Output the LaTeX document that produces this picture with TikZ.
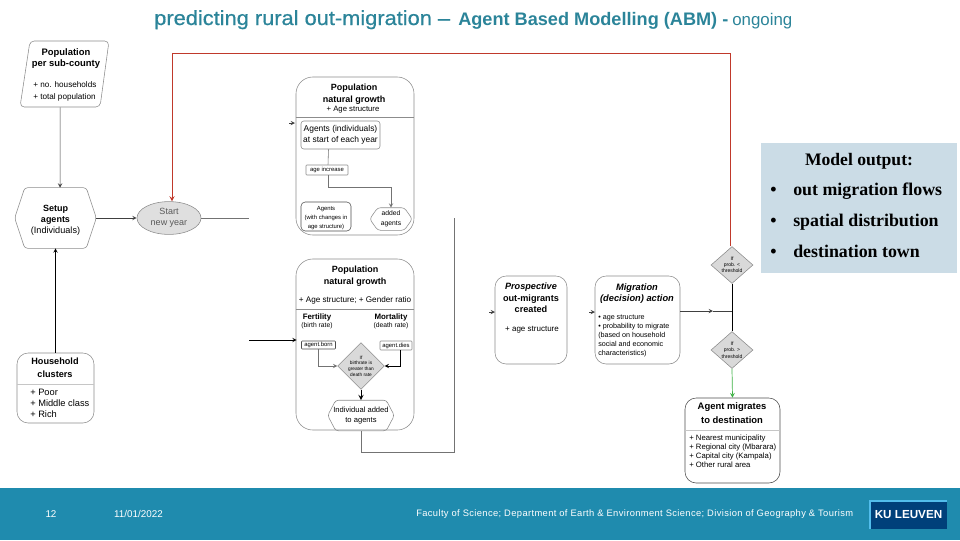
\documentclass[tikz,border=0pt]{standalone}
\usepackage{fontspec}
\setmainfont{Liberation Sans}
\newfontfamily\panelfont{Liberation Serif}
\usepackage{xcolor}
\usepackage{tikz}
\usetikzlibrary{calc, arrows, shapes.geometric}
\definecolor{titleteal}{HTML}{2B8499}
\definecolor{footerteal}{HTML}{1F8BAE}
\definecolor{panelblue}{HTML}{CBDCE6}
\definecolor{kublue}{HTML}{00407A}
\definecolor{kuedge}{HTML}{52BDEC}
\definecolor{boxline}{gray}{0.55}
\definecolor{flowred}{HTML}{C0392B}
\definecolor{flowgreen}{HTML}{3CB043}
\tikzset{
  >=stealth,
  roundbox/.style = {draw=boxline, rounded corners=8pt, inner sep=0pt},
  smallbox/.style = {draw=boxline, rounded corners=.6pt, inner sep=0pt, font=\fontsize{4.2}{5}\selectfont},
  ghost/.style = {inner sep=0pt},
  head/.style = {font=\fontsize{6.4}{8}\selectfont\bfseries, align=center, inner sep=0pt},
  plain/.style = {font=\fontsize{5}{6.6}\selectfont, align=left, inner sep=0pt},
  flow/.style = {draw=black!75, line width=.4pt},
  decide/.style = {diamond, draw=boxline, fill=gray!30, aspect=1, inner sep=0pt},
  foot/.style = {text=white, font=\fontsize{7}{8}\selectfont, inner sep=0pt},
  bullet/.style = {anchor=base west, inner sep=0pt, font=\panelfont\bfseries\fontsize{12.7}{14}\selectfont}
}
\newcommand{\hexoutline}[2]{
  \draw[boxline, rounded corners=2pt] (#1.west)
  -- ($(#1.north west)+(#2,0)$) -- ($(#1.north east)+(-#2,0)$)
  -- (#1.east) -- ($(#1.south east)+(-#2,0)$) -- ($(#1.south west)+(#2,0)$) -- cycle;
}
\begin{document}
\begin{tikzpicture}[x=0.025cm, y=-0.025cm]
  \useasboundingbox (0,0) rectangle (960,540);
  % title
  \node[anchor=base west, inner sep=0pt, text=titleteal, font=\fontsize{14.5}{16}\selectfont] (titlea) at (154,25) {\addfontfeature{FakeStretch=1.07,FakeBold=0.6}predicting rural out-migration --};
  \node[anchor=base west, inner sep=0pt, text=titleteal, font=\fontsize{12.9}{15}\selectfont\bfseries] (titleb) at (458,25) {Agent Based Modelling (ABM) -};
  \node[anchor=base west, inner sep=0pt, text=titleteal, font=\fontsize{12}{14}\selectfont] (titlec) at (732,25) {ongoing};

  % left column
  \node[ghost, minimum width=2.2cm, minimum height=1.65cm] (popsub) at (64.5,74) {};
  \draw[boxline, rounded corners=3pt] (30,41) -- (109,41) -- (100,107) -- (20,107) -- cycle;
  \node[head, font=\fontsize{6.7}{8}\selectfont\bfseries, anchor=north] (popsubhead) at (66,48) {Population\\per sub-county};
  \node[plain, anchor=north west, font=\fontsize{5.8}{8.5}\selectfont] (popsubtext) at (33,81) {+ no. households\\+ total population};

  \node[ghost, minimum width=2.025cm, minimum height=1.5cm] (setup) at (55.5,218) {};
  \hexoutline{setup}{10}
  \node[head] (setuphead) at (55.5,214.5) {Setup\\agents};
  \node[font=\fontsize{6.5}{8}\selectfont, inner sep=0pt] (setuptext) at (55.5,231) {(Individuals)};

  \node[ellipse, draw=boxline, fill=gray!25, minimum width=1.6cm, minimum height=.82cm, inner sep=0pt, text=black!65, font=\fontsize{6.4}{7.8}\selectfont, align=center] (newyear) at (169,218) {Start\\new year};

  \node[roundbox, minimum width=1.925cm, minimum height=1.75cm] (clusters) at (55.5,388) {};
  \draw[boxline!50] (clusters.west |- 0,384) coordinate (clusterl) -- (clusters.east |- 0,384) coordinate (clusterr);
  \node[head, font=\fontsize{6.5}{9.2}\selectfont\bfseries] (clusterhead) at (55,367.5) {Household\\clusters};
  \node[plain, anchor=north west, font=\fontsize{6.6}{7.8}\selectfont] (clustertext) at (30,389) {+ Poor\\+ Middle class\\+ Rich};

  \draw[flow, ->] ([xshift=-.11cm]popsub.south) -- ([xshift=.115cm]setup.north);
  \draw[flow, ->] (setup.east) -- (newyear.west);
  \draw[flow, draw=black, ->] (clusters.north) -- (setup.south);
  \coordinate (cutoff) at (249,218);
  \draw[flow, draw=black!55] (newyear.east) -- (cutoff);

  % first growth box
  \node[roundbox, rounded corners=12pt, minimum width=2.95cm, minimum height=3.95cm] (growtha) at (355,156) {};
  \draw[boxline] (growtha.west |- 0,117) -- (growtha.east |- 0,117);
  \node[head, anchor=north] (growthahead) at (354,84) {Population\\natural growth};
  \node[font=\fontsize{5.5}{6}\selectfont, inner sep=0pt] (growthatext) at (353,110) {+ Age structure};
  \node[draw=boxline, rounded corners=2pt, inner sep=0pt, minimum width=1.975cm, minimum height=.7cm, align=center, font=\fontsize{6}{7.6}\selectfont] (yearstart) at (340.5,135) {Agents (individuals)\\at start of each year};
  \node[smallbox, minimum width=1.05cm, minimum height=.25cm] (ageup) at (327,170) {age increase};
  \node[draw=black!70, rounded corners=3pt, inner sep=0pt, minimum width=1.25cm, minimum height=.725cm] (changed) at (326,216.5) {};
  \node[align=center, inner sep=0pt, font=\fontsize{4.2}{6.4}\selectfont] (changedtext) at (326,218) {Agents\\(with changes in\\age structure)};
  \node[ghost, minimum width=1.05cm, minimum height=.55cm, align=center, font=\fontsize{4.8}{7}\selectfont] (added) at (391,219) {added\\agents};
  \hexoutline{added}{8}
  \draw[flow, draw=black!55] ([xshift=-.3cm]yearstart.south) -- ([xshift=.025cm]ageup.north);
  \draw[flow, draw=black!55, ->] ([xshift=.025cm]ageup.south) |- ($(added.north)+(-62,-20)$) -| (added.north);
  \coordinate (tickin) at (289,123);
  \draw[flow, ->] (tickin) -- ++(6,0);

  % second growth box
  \node[roundbox, rounded corners=12pt, minimum width=2.95cm, minimum height=4.275cm] (growthb) at (355,344.5) {};
  \draw[boxline] (growthb.west |- 0,309) -- (growthb.east |- 0,309);
  \node[head, font=\fontsize{6.4}{8.6}\selectfont\bfseries, anchor=north] (growthbhead) at (355,266) {Population\\natural growth};
  \node[font=\fontsize{5.8}{6}\selectfont, inner sep=0pt] (growthbtext) at (355,300) {+ Age structure; + Gender ratio};
  \node[head, font=\fontsize{5.6}{7}\selectfont\bfseries] (fert) at (317,317) {Fertility};
  \node[font=\fontsize{4.8}{5}\selectfont, inner sep=0pt] (fertrate) at (317,326) {(birth rate)};
  \node[head, font=\fontsize{5.6}{7}\selectfont\bfseries] (mort) at (391,317) {Mortality};
  \node[font=\fontsize{4.8}{5}\selectfont, inner sep=0pt] (mortrate) at (391,326) {(death rate)};
  \node[smallbox, draw=black!70, minimum width=.85cm, minimum height=.2cm] (born) at (318.5,345) {agent.born};
  \node[smallbox, minimum width=.8cm, minimum height=.225cm] (dies) at (396,345.5) {agent.dies};
  \node[decide, minimum width=1.1cm, minimum height=.95cm, align=center, font=\fontsize{3.4}{4.1}\selectfont] (birthcheck) at (361,366) {If\\birthrate is\\greater than\\death rate};
  \node[ghost, minimum width=1.65cm, minimum height=.75cm, align=center, font=\fontsize{5.4}{7.6}\selectfont] (newagent) at (361,415.5) {Individual added\\to agents};
  \hexoutline{newagent}{8}
  \coordinate (cutin) at (249,340);
  \draw[flow, draw=black, ->] (cutin) -- ($(growthb.west |- cutin)+(1,0)$);
  \draw[flow, draw=black!55, ->] (born.south) |- (birthcheck.west);
  \draw[flow, draw=black, ->] ([xshift=.1cm]dies.south) |- (birthcheck.east);
  \draw[flow, draw=black, line width=.7pt, ->] (birthcheck.south) -- (newagent.north);
  \coordinate (backtop) at (454,218);
  \draw[flow, draw=black!55] (newagent.south) |- (backtop |- 0,452) -- (backtop);

  % migrants
  \node[roundbox, minimum width=1.8cm, minimum height=2.2cm] (prospect) at (531,320) {};
  \node[head, font=\fontsize{6.5}{8}\selectfont\bfseries, anchor=north] (prospecthead) at (531,283) {\itshape Prospective\\out-migrants\\created};
  \node[font=\fontsize{5.7}{6}\selectfont, inner sep=0pt] (prospecttext) at (532,330) {+ age structure};
  \node[roundbox, minimum width=2.125cm, minimum height=2.2cm] (decision) at (637.5,320) {};
  \node[head, font=\fontsize{6.6}{8}\selectfont\bfseries\itshape, anchor=north] (decisionhead) at (637,283) {Migration\\(decision) action};
  \node[plain, anchor=north west, font=\fontsize{5.1}{6.4}\selectfont] (decisiontext) at (598,315) {• age structure\\• probability to migrate\\(based on household\\social and economic\\characteristics)};
  \coordinate (tickp) at (489,312);
  \coordinate (tickd) at (589,312);
  \draw[flow, ->] (tickp) -- ++(6,0);
  \draw[flow, ->] (tickd) -- ++(6,0);

  \node[decide, minimum width=1.05cm, minimum height=.9cm, align=center, font=\fontsize{3.6}{4.4}\selectfont] (probless) at (732,265) {If\\prob. <\\threshold};
  \node[decide, minimum width=1.05cm, minimum height=.9cm, align=center, font=\fontsize{3.6}{4.4}\selectfont] (probmore) at (732,350) {If\\prob. >\\threshold};
  \node[roundbox, draw=black!70, minimum width=2.375cm, minimum height=2.125cm] (migrates) at (732.5,440.5) {};
  \draw[boxline!50] (migrates.west |- 0,430) -- (migrates.east |- 0,430);
  \node[head, font=\fontsize{6.7}{9.8}\selectfont\bfseries] (migrateshead) at (732,413) {Agent migrates\\to destination};
  \node[plain, anchor=north west, font=\fontsize{5.5}{6.4}\selectfont] (migratestext) at (689,435) {+ Nearest municipality\\+ Regional city (Mbarara)\\+ Capital city (Kampala)\\+ Other rural area};
  \draw[flow, draw=black] (probless.south) -- (probmore.north);
  \draw[flow, ->] (decision.east |- 0,311) -- (713,311);
  \draw[flow] (713,311) -- (probless.south |- 0,311);
  \draw[flowgreen, line width=.5pt, ->] (probmore.south) -- (migrates.north);
  \coordinate (redknee) at ([xshift=.075cm]newyear.north |- 0,53);
  \draw[flowred, line width=.6pt, ->] ([xshift=-.04cm]probless.north) |- (redknee) -- ([xshift=.075cm]newyear.north);

  % output panel
  \node[fill=panelblue, minimum width=4.9cm, minimum height=3.25cm, inner sep=0pt] (panel) at (859,208) {};
  \node[anchor=base, inner sep=0pt, font=\panelfont\bfseries\fontsize{12.5}{14}\selectfont] (paneltitle) at (859,165) {Model output:};
  \foreach \ypos/\txt/\idx in {195/out migration flows/a, 226/spatial distribution/b, 257/destination town/c}{
    \node[bullet] (dot\idx) at (770,\ypos) {•};
    \node[bullet] (out\idx) at (793,\ypos) {\txt};
  }

  % footer
  \fill[footerteal] (0,488) rectangle (960,540);
  \node[foot] (pagenum) at (51,514) {12};
  \node[foot] (datestamp) at (138.5,514) {11/01/2022};
  \node[foot, anchor=west, font=\fontsize{6.65}{8}\selectfont] (faculty) at (416,514) {\addfontfeature{LetterSpace=4}Faculty of Science; Department of Earth \& Environment Science; Division of Geography \& Tourism};
  \node[fill=kublue, minimum width=1.925cm, minimum height=.7cm, inner sep=0pt, text=white, font=\fontsize{8.3}{10}\selectfont\bfseries] (kulogo) at (908.5,515) {KU LEUVEN};
  \draw[kuedge, line width=1.4pt] (kulogo.south west) -- (kulogo.north west) -- (kulogo.north east);
\end{tikzpicture}
\end{document}
